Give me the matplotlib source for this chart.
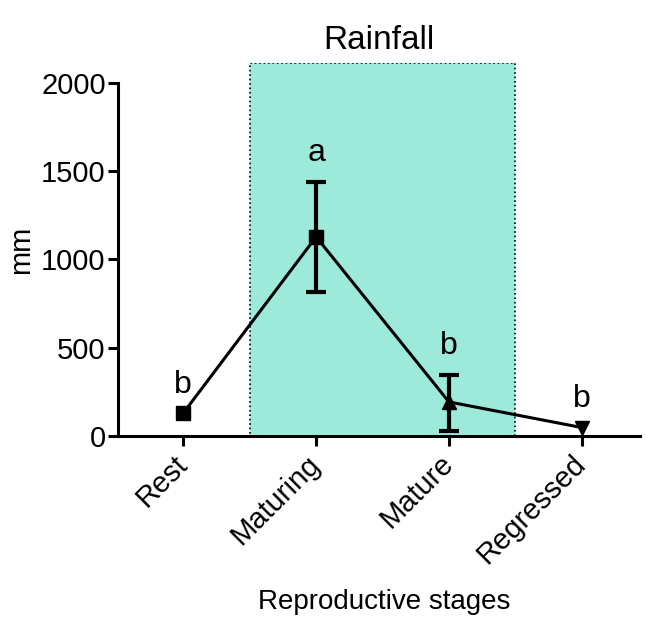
import numpy as np
import matplotlib.pyplot as plt

plt.rcParams['font.family'] = ['Liberation Sans', 'DejaVu Sans']

stages = ["Rest", "Maturing", "Mature", "Regressed"]
rain = [130, 1127, 193, 48]
err_lo = [0, 310, 165, 0]
err_hi = [0, 312, 155, 0]
letters = ["b", "a", "b", "b"]
markers = ["s", "s", "^", "v"]

fig = plt.figure(figsize=(6.46, 6.19), dpi=100)
ax = fig.add_axes([0.183, 0.2956, 0.808, 0.6024])

x = np.arange(len(stages))
# shaded maturing-mature window
ax.axvspan(0.5, 2.5, ymin=0, ymax=1, facecolor="#9deadb", edgecolor="black",
           linestyle=":", linewidth=1.2, zorder=0)

ax.plot(x, rain, color="black", lw=2.2, zorder=3)
has_err = [i for i in range(len(x)) if err_lo[i] > 0 or err_hi[i] > 0]
ax.errorbar(x[has_err], [rain[i] for i in has_err],
            yerr=[[err_lo[i] for i in has_err], [err_hi[i] for i in has_err]],
            fmt="none", ecolor="black", elinewidth=3, capsize=7, capthick=3, zorder=3)
for i in range(len(x)):
    ax.plot(x[i], rain[i], marker=markers[i], color="black", ms=10, zorder=4)
    top = rain[i] + err_hi[i]
    ax.text(x[i], top + 75, letters[i], ha="center", va="bottom", fontsize=23)

ax.set_xlim(-0.49, 3.44)
ax.set_ylim(0, 2110)
ax.set_yticks([0, 500, 1000, 1500, 2000])
ax.set_xticks(x)
ax.set_xticklabels(stages, rotation=45, ha="right", va="center", rotation_mode="anchor")
ax.spines["top"].set_visible(False)
ax.spines["right"].set_visible(False)
ax.spines["left"].set_bounds(0, 2000)
for s in ["left", "bottom"]:
    ax.spines[s].set_linewidth(2.2)
ax.tick_params(width=2.2, length=7, labelsize=21)
ax.tick_params(axis="y", pad=2)
ax.tick_params(axis="x", pad=10)

ax.set_ylabel("mm", fontsize=21)
ax.yaxis.set_label_coords(-0.16, 0.5)
ax.set_xlabel("Reproductive stages", fontsize=20)
ax.xaxis.set_label_coords(0.51, -0.41)
ax.set_title("Rainfall", fontsize=24, pad=10)

fig.savefig("out.png", dpi=100)
